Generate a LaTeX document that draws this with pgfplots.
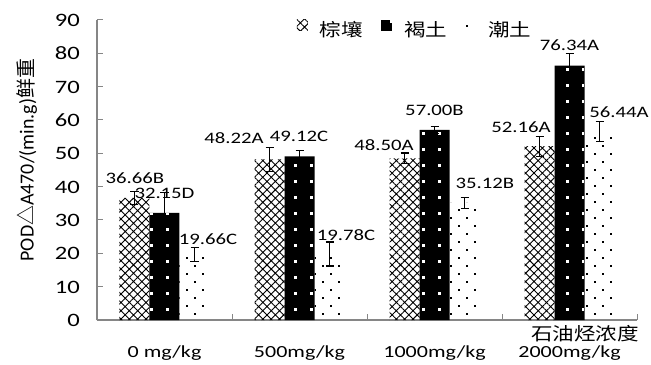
\documentclass[border=0pt]{standalone}
\usepackage{fontspec}
\setmainfont{Carlito}[FakeStretch=1.3]
\newfontfamily\plainlat{Carlito}
\newfontfamily\cjk{Noto Sans CJK SC}[FakeStretch=1.2]
\newfontfamily\cjkn{Noto Sans CJK SC}
\usepackage{pgfplots}
\pgfplotsset{compat=1.18}
\usetikzlibrary{patterns,patterns.meta}

\pgfdeclarepatternformonly{wsq}{\pgfpoint{-1bp}{-1bp}}{\pgfpoint{17bp}{17bp}}{\pgfpoint{16bp}{16bp}}{%
  \pgfpathrectangle{\pgfpoint{6bp}{6bp}}{\pgfpoint{3.2bp}{3.2bp}}%
  \pgfusepath{fill}}
\pgfdeclarepatternformonly{sdots}{\pgfpoint{-1bp}{-1bp}}{\pgfpoint{17bp}{17bp}}{\pgfpoint{16bp}{16bp}}{%
  \pgfpathrectangle{\pgfpoint{2bp}{2bp}}{\pgfpoint{1.8bp}{1.8bp}}%
  \pgfpathrectangle{\pgfpoint{10bp}{10bp}}{\pgfpoint{1.8bp}{1.8bp}}%
  \pgfusepath{fill}}

\definecolor{axgray}{RGB}{134,134,134}

\begin{document}
\begin{tikzpicture}
\begin{axis}[
  scale only axis, width=540bp, height=300bp,
  xmin=-0.5, xmax=3.5, ymin=0, ymax=90,
  ybar=0pt, bar width=30bp,
  axis lines*=left,
  axis line style={draw=axgray, line width=1.2bp},
  tick align=inside, major tick length=6bp,
  tick style={draw=axgray, line width=1bp},
  ytick={0,10,...,90},
  xtick={-0.5,0.5,1.5,2.5,3.5}, xticklabels={},
  extra x ticks={0,1,2,3},
  extra x tick labels={0 mg/kg,500mg/kg,1000mg/kg,2000mg/kg},
  extra x tick style={major tick length=0pt, tick style={draw=none}},
  /pgf/number format/assume math mode=true,
  yticklabel style={font=\fontsize{19}{19}\selectfont, anchor=base east, inner sep=0pt, xshift=-17bp, yshift=-6.5bp},
  xticklabel style={font=\fontsize{17}{17}\selectfont, anchor=base, inner sep=0pt, yshift=-37bp},
  clip=false,
  ylabel={\plainlat POD{\cjkn △}A470/(min.g){\cjkn 鲜重}},
  every axis y label/.style={at={(rel axis cs:-0.1296,0.533)}, rotate=90, anchor=center, font=\fontsize{20}{20}\selectfont},
  legend image code/.code={\path[#1, draw=none] (0bp,-1bp) rectangle (11bp,10bp);},
  legend style={at={(rel axis cs:0.37,0.97)}, anchor=west, draw=none, fill=none,
    legend columns=3, inner sep=0pt, nodes={inner sep=0pt},
    /tikz/every odd column/.append style={column sep=12bp},
    /tikz/every even column/.append style={column sep=18bp},
    font=\cjk\fontsize{18}{20}\selectfont},
  legend cell align=left,
]
\addplot[draw=none, pattern={Hatch[angle=45,distance=5.9bp,line width=0.9bp]}, pattern color=black,
  error bars/.cd, y dir=both, y explicit,
  error bar style={draw=black, line width=1.2bp},
  error mark options={draw=black, rotate=90, mark size=4bp, line width=1.2bp}]
  coordinates {(0,36.66) +- (0,2.0) (1,48.22) +- (0,3.6) (2,48.50) +- (0,1.6) (3,52.16) +- (0,3.0)};
\addlegendentry{棕壤}
\addplot[draw=none, fill=black, postaction={pattern=wsq, pattern color=white},
  error bars/.cd, y dir=both, y explicit,
  error bar style={draw=black, line width=1.2bp},
  error mark options={draw=black, rotate=90, mark size=4bp, line width=1.2bp}]
  coordinates {(0,32.15) +- (0,6.0) (1,49.12) +- (0,1.7) (2,57.00) +- (0,1.1) (3,76.34) +- (0,3.6)};
\addlegendentry{褐土}
\addplot[draw=none, pattern=sdots, pattern color=black,
  error bars/.cd, y dir=both, y explicit,
  error bar style={draw=black, line width=1.2bp},
  error mark options={draw=black, rotate=90, mark size=4bp, line width=1.2bp}]
  coordinates {(0,19.66) +- (0,2.2) (1,19.78) +- (0,3.6) (2,35.12) +- (0,1.7) (3,56.44) +- (0,3.0)};
\addlegendentry{潮土}

\begin{scope}[every node/.style={anchor=base, inner sep=0pt, font=\fontsize{16}{16}\selectfont}]
\node at (axis cs:-0.219,41.1) {36.66B};
\node at (axis cs:0.0,36.6) {32.15D};
\node at (axis cs:0.322,22.8) {19.66C};
\node at (axis cs:0.515,53.1) {48.22A};
\node at (axis cs:0.996,53.7) {49.12C};
\node at (axis cs:1.344,24.0) {19.78C};
\node at (axis cs:1.626,51.0) {48.50A};
\node at (axis cs:2.0,61.5) {57.00B};
\node at (axis cs:2.374,39.6) {35.12B};
\node at (axis cs:2.641,56.4) {52.16A};
\node at (axis cs:3.0,81.0) {76.34A};
\node at (axis cs:3.367,60.9) {56.44A};
\end{scope}
\node[anchor=base, inner sep=0pt, yshift=-20bp, font=\cjk\fontsize{18}{18}\selectfont] at (rel axis cs:0.904,0) {石油烃浓度};
\end{axis}
\path (current axis.south west) ++(-97bp,-45bp);
\path (current axis.north east) ++(14bp,20bp);
\end{tikzpicture}
\end{document}
